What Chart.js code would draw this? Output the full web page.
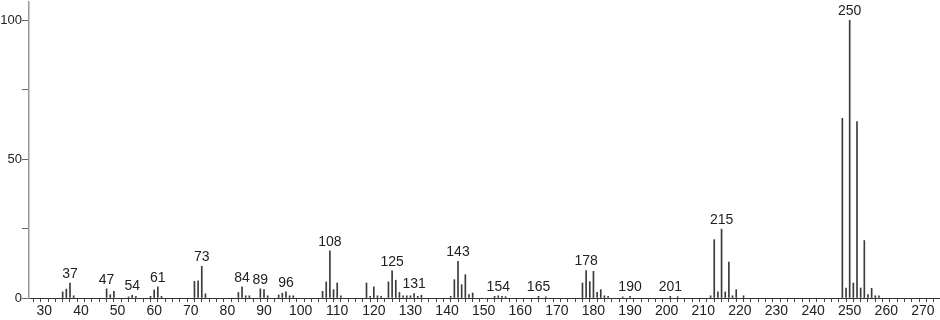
<!DOCTYPE html>
<html>
<head>
<meta charset="utf-8">
<script src="https://cdn.jsdelivr.net/npm/chart.js@4/dist/chart.umd.min.js"></script>
<style>
    body { margin: 0; background: #fff; }
    canvas { display: block; }
</style>
</head>
<body>
<canvas id="spectrum" width="940" height="320"></canvas>
<script>
// m/z values and relative intensities
const masses = [
    35, 36, 37, 38, 47, 48, 49, 53, 54, 55, 59, 60, 61, 62, 71, 72, 73, 74,
    83, 84, 85, 86, 89, 90, 91, 94, 95, 96, 97, 98,
    106, 107, 108, 109, 110, 111, 118, 119, 120, 121, 122,
    124, 125, 126, 127, 128, 129, 130, 131, 132, 133,
    141, 142, 143, 144, 145, 146, 147, 153, 154, 155, 156, 165, 167,
    177, 178, 179, 180, 181, 182, 183, 184, 188, 190, 201, 203,
    212, 213, 214, 215, 216, 217, 218, 219, 221,
    248, 249, 250, 251, 252, 253, 254, 255, 256, 257, 258
];
const intensities = [
    2.2, 3.2, 5.4, 0.8, 3.3, 1.2, 2.4, 0.4, 1.0, 0.6, 0.6, 2.9, 4.0, 0.6, 6.0, 6.2, 11.4, 1.5,
    2.0, 4.0, 0.8, 0.8, 3.3, 3.0, 0.8, 1.1, 1.7, 2.2, 0.8, 0.8,
    2.4, 5.8, 17.0, 3.0, 5.4, 0.8, 5.4, 0.6, 4.0, 0.8, 0.6,
    5.8, 9.8, 6.4, 2.0, 0.8, 0.8, 0.8, 1.6, 0.6, 1.0,
    0.6, 6.6, 13.2, 4.8, 8.4, 1.2, 1.8, 0.6, 0.8, 0.6, 0.5, 0.6, 0.4,
    5.4, 9.9, 5.9, 9.6, 2.0, 3.0, 0.8, 0.6, 0.4, 0.6, 0.6, 0.5,
    0.8, 21.0, 2.2, 24.8, 2.2, 12.9, 0.8, 3.0, 0.8,
    64.7, 3.6, 100, 5.4, 63.5, 3.6, 20.7, 1.2, 3.5, 0.8, 0.8
];
const labelledMasses = [37, 47, 54, 61, 73, 84, 89, 96, 108, 125, 131, 143, 154, 165, 178, 190, 201, 215, 250];
const yTickLabels = [0, 50, 100];

const FONT = "Liberation Sans";

const peakLabels = {
    id: "peakLabels",
    afterDatasetsDraw(chart) {
        const ctx = chart.ctx;
        const xs = chart.scales.x;
        const ys = chart.scales.y;
        ctx.save();
        ctx.font = "14px '" + FONT + "'";
        ctx.fillStyle = "#222";
        ctx.textAlign = "center";
        ctx.textBaseline = "bottom";
        labelledMasses.forEach(m => {
            const i = masses.indexOf(m);
            if (i < 0) return;
            ctx.fillText(String(m), xs.getPixelForValue(m), ys.getPixelForValue(intensities[i]) - 2);
        });
        ctx.restore();
    }
};

new Chart(document.getElementById("spectrum"), {
    type: "bar",
    data: {
        datasets: [{
            data: masses.map((m, i) => ({ x: m, y: intensities[i] })),
            backgroundColor: "#3a3a3a",
            barThickness: 1,
            borderWidth: 0
        }]
    },
    options: {
        responsive: false,
        animation: false,
        layout: { padding: { top: 2, right: 1, left: 0, bottom: 0 } },
        plugins: { legend: { display: false }, tooltip: { enabled: false } },
        scales: {
            x: {
                type: "linear",
                min: 25.8,
                max: 274.4,
                offset: false,
                afterFit: s => { s.height = 22; s.paddingLeft = 0; s.paddingRight = 0; },
                border: { display: true, color: "#333", width: 1 },
                grid: { drawOnChartArea: false, drawTicks: true, tickLength: 4, color: "#444" },
                ticks: {
                    stepSize: 2,
                    includeBounds: false,
                    autoSkip: false,
                    maxRotation: 0,
                    padding: 1,
                    color: "#222",
                    font: { family: FONT, size: 14 },
                    callback: v => (v % 10 === 0 && v >= 30 && v <= 270) ? String(v) : ""
                }
            },
            y: {
                min: 0,
                max: 106.6,
                afterFit: s => { s.width = 29; s.paddingTop = 0; s.paddingBottom = 0; },
                border: { display: true, color: "#999", width: 1.5 },
                grid: { drawOnChartArea: false, drawTicks: true, tickLength: 7, color: "#666" },
                ticks: {
                    stepSize: 25,
                    includeBounds: false,
                    padding: 0,
                    color: "#222",
                    font: { family: FONT, size: 13 },
                    callback: v => yTickLabels.includes(v) ? String(v) : ""
                }
            }
        }
    },
    plugins: [peakLabels]
});
</script>
</body>
</html>
